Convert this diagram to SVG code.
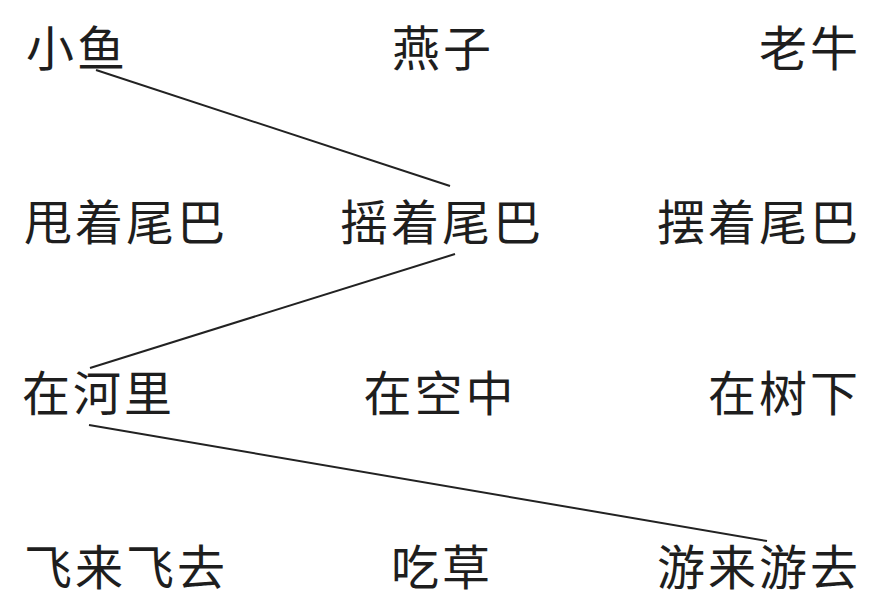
<svg xmlns="http://www.w3.org/2000/svg" width="891" height="616" viewBox="0 0 891 616">
<style>
text{font-family:"Noto Sans CJK SC","Noto Sans CJK TC",sans-serif;font-size:48px;fill:#1e1e1e;letter-spacing:3px}
.m{text-anchor:middle}
.e{text-anchor:end}
line{stroke:#222;stroke-width:2;fill:none}
</style>
<rect width="891" height="616" fill="#fff"/>
<g id="n-xiaoyu"><text x="26" y="66">小鱼</text></g>
<g id="n-yanzi"><text class="m" x="443" y="66">燕子</text></g>
<g id="n-laoniu"><text class="e" x="861" y="66">老牛</text></g>
<g id="n-shuai"><text x="24" y="240">甩着尾巴</text></g>
<g id="n-yao"><text class="m" x="442" y="240">摇着尾巴</text></g>
<g id="n-bai"><text class="e" x="861" y="240">摆着尾巴</text></g>
<g id="n-hheli"><text x="22" y="411">在河里</text></g>
<g id="n-kongzhong"><text class="m" x="440" y="411">在空中</text></g>
<g id="n-shuxia"><text class="e" x="861" y="411">在树下</text></g>
<g id="n-fei"><text x="24" y="585">飞来飞去</text></g>
<g id="n-chicao"><text class="m" x="442" y="585">吃草</text></g>
<g id="n-you"><text class="e" x="861" y="585">游来游去</text></g>
<g id="connectors">
<line x1="96" y1="70" x2="450" y2="186"/>
<line x1="455" y1="254" x2="90" y2="368"/>
<line x1="89" y1="425" x2="767" y2="541"/>
</g>
</svg>
